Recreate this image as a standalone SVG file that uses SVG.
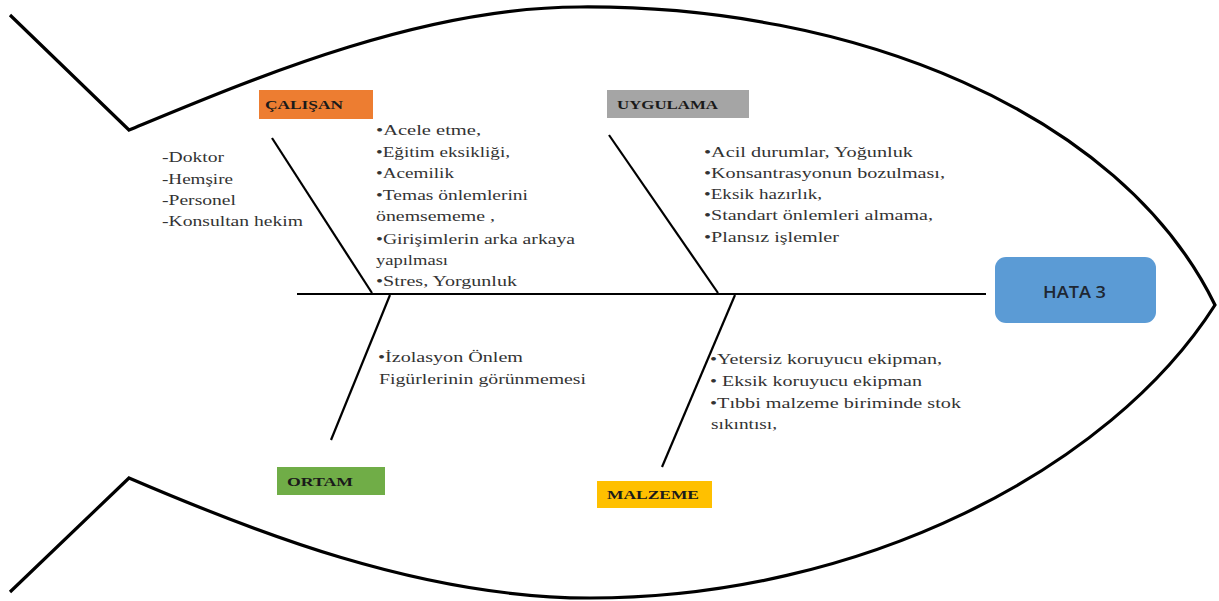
<svg xmlns="http://www.w3.org/2000/svg" width="1219" height="601" viewBox="0 0 1219 601">
  <style>
    .outline { fill: none; stroke: #000; stroke-width: 3.2; stroke-linejoin: miter; }
    .bone { stroke: #000; stroke-width: 2.2; fill: none; }
    .cat-text { font-family: "Liberation Serif", "Times New Roman", serif; font-weight: bold; font-size: 13px; fill: #1a1a1a; }
    .cause { font-family: "Liberation Serif", "Times New Roman", serif; font-size: 15.5px; fill: #333333; }
    .head-text { font-family: "Open Sans", "Liberation Sans", sans-serif; font-weight: 600; font-size: 17px; fill: #1e2733; }
  </style>

  <rect width="1219" height="601" fill="#ffffff"/>

  <!-- fish body and tail -->
  <g id="fish-outline">
    <path class="outline" d="M10,15 L129,130 C250,80 420,7 580,7 C850,5 1120,110 1215,305 C1110,470 860,598 590,598 C420,598 250,530 129,478 L10,592"/>
  </g>

  <!-- spine and category bones -->
  <g id="connectors">
    <line class="bone" x1="297" y1="294" x2="986" y2="294"/>
    <line class="bone" x1="272" y1="138" x2="372" y2="293"/>
    <line class="bone" x1="609" y1="135" x2="718" y2="293"/>
    <line class="bone" x1="390" y1="295" x2="331" y2="440"/>
    <line class="bone" x1="735" y1="295" x2="662" y2="467"/>
  </g>

  <!-- effect -->
  <g id="head">
    <rect x="995" y="257" width="161" height="66" rx="11" fill="#5b9bd5"/>
    <text class="head-text" x="1043" y="298" textLength="63" lengthAdjust="spacingAndGlyphs">HATA 3</text>
  </g>

  <!-- category: staff -->
  <g id="calisan">
    <rect x="259" y="90" width="114" height="29" fill="#ed7d31"/>
    <text class="cat-text" x="265" y="109" textLength="78" lengthAdjust="spacingAndGlyphs">ÇALIŞAN</text>
  </g>
  <g id="calisan-roles" class="cause">
    <text x="162" y="162" textLength="62" lengthAdjust="spacingAndGlyphs">-Doktor</text>
    <text x="162" y="184" textLength="71" lengthAdjust="spacingAndGlyphs">-Hemşire</text>
    <text x="162" y="205" textLength="74" lengthAdjust="spacingAndGlyphs">-Personel</text>
    <text x="162" y="226" textLength="141" lengthAdjust="spacingAndGlyphs">-Konsultan hekim</text>
  </g>
  <g id="calisan-causes" class="cause">
    <text x="376" y="135" textLength="105" lengthAdjust="spacingAndGlyphs">•Acele etme,</text>
    <text x="376" y="157" textLength="134" lengthAdjust="spacingAndGlyphs">•Eğitim eksikliği,</text>
    <text x="376" y="178" textLength="78" lengthAdjust="spacingAndGlyphs">•Acemilik</text>
    <text x="376" y="200" textLength="152" lengthAdjust="spacingAndGlyphs">•Temas önlemlerini</text>
    <text x="376" y="221" textLength="119" lengthAdjust="spacingAndGlyphs">önemsememe  ,</text>
    <text x="376" y="244" textLength="199" lengthAdjust="spacingAndGlyphs">•Girişimlerin arka arkaya</text>
    <text x="376" y="265" textLength="72" lengthAdjust="spacingAndGlyphs">yapılması</text>
    <text x="376" y="286" textLength="141" lengthAdjust="spacingAndGlyphs">•Stres, Yorgunluk</text>
  </g>

  <!-- category: practice -->
  <g id="uygulama">
    <rect x="607" y="90" width="142" height="28" fill="#a5a5a5"/>
    <text class="cat-text" x="617" y="109" textLength="101" lengthAdjust="spacingAndGlyphs">UYGULAMA</text>
  </g>
  <g id="uygulama-causes" class="cause">
    <text x="704" y="157" textLength="209" lengthAdjust="spacingAndGlyphs">•Acil durumlar, Yoğunluk</text>
    <text x="704" y="178" textLength="241" lengthAdjust="spacingAndGlyphs">•Konsantrasyonun  bozulması,</text>
    <text x="704" y="199" textLength="118" lengthAdjust="spacingAndGlyphs">•Eksik hazırlık,</text>
    <text x="704" y="220" textLength="229" lengthAdjust="spacingAndGlyphs">•Standart  önlemleri almama,</text>
    <text x="704" y="242" textLength="135" lengthAdjust="spacingAndGlyphs">•Plansız işlemler</text>
  </g>

  <!-- category: environment -->
  <g id="ortam">
    <rect x="277" y="467" width="108" height="28" fill="#70ad47"/>
    <text class="cat-text" x="287" y="486" textLength="66" lengthAdjust="spacingAndGlyphs">ORTAM</text>
  </g>
  <g id="ortam-causes" class="cause">
    <text x="378" y="362" textLength="145" lengthAdjust="spacingAndGlyphs">•İzolasyon Önlem</text>
    <text x="379" y="384" textLength="207" lengthAdjust="spacingAndGlyphs">Figürlerinin görünmemesi</text>
  </g>

  <!-- category: material -->
  <g id="malzeme">
    <rect x="597" y="481" width="115" height="27" fill="#ffc000"/>
    <text class="cat-text" x="607" y="499" textLength="92" lengthAdjust="spacingAndGlyphs">MALZEME</text>
  </g>
  <g id="malzeme-causes" class="cause">
    <text x="710" y="364" textLength="232" lengthAdjust="spacingAndGlyphs">•Yetersiz koruyucu ekipman,</text>
    <text x="710" y="386" textLength="212" lengthAdjust="spacingAndGlyphs">• Eksik koruyucu ekipman</text>
    <text x="710" y="408" textLength="251" lengthAdjust="spacingAndGlyphs">•Tıbbi malzeme biriminde stok</text>
    <text x="711" y="429" textLength="66" lengthAdjust="spacingAndGlyphs">sıkıntısı,</text>
  </g>
</svg>
